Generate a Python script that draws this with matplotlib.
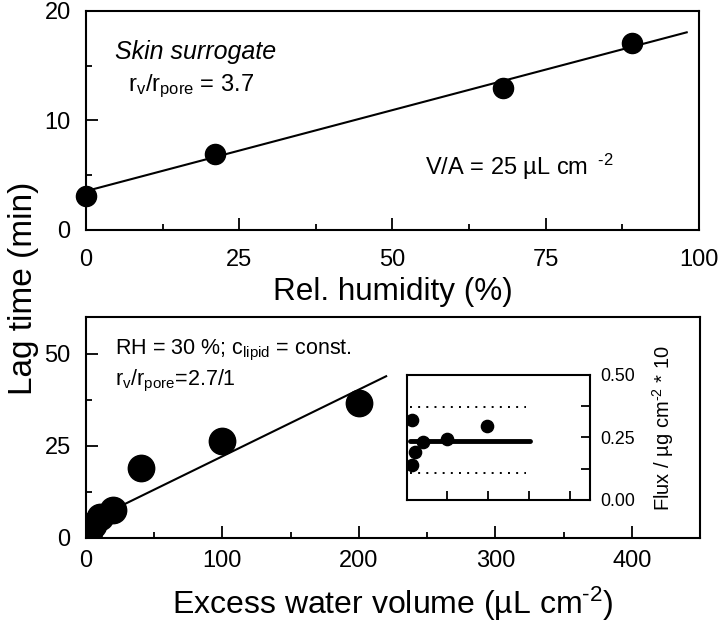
import matplotlib
matplotlib.use("Agg")
import matplotlib.pyplot as plt
from matplotlib.ticker import MultipleLocator, FormatStrFormatter

plt.rcParams['font.family'] = ['Liberation Sans', 'DejaVu Sans']
plt.rcParams['mathtext.fontset'] = 'custom'
plt.rcParams['mathtext.rm'] = 'Liberation Sans'
plt.rcParams['mathtext.it'] = 'Liberation Sans:italic'
plt.rcParams['mathtext.bf'] = 'Liberation Sans:bold'

HY = '\u2010'  # typographic hyphen for "-2" superscripts

# --- Top panel data: lag time vs relative humidity
rh = [0, 21, 68, 89]
lag_rh = [3.1, 6.9, 13.0, 17.1]
rh_fit_x = [0, 98]
rh_fit_y = [3.55, 18.05]

# --- Bottom panel data: lag time vs excess water volume
vol = [2.5, 5, 10, 20, 40, 100, 200]
lag_vol = [1.5, 3.5, 5.5, 7.5, 19.0, 26.4, 36.6]
vol_fit_x = [0, 220]
vol_fit_y = [4.0, 43.9]

# --- Inset data: flux vs excess water volume
flux_x = [12, 14, 20, 39, 99, 198]
flux_y = [0.14, 0.32, 0.19, 0.233, 0.244, 0.296]
flux_mean_x = [8, 302]
flux_mean_y = 0.237
flux_band_x = [8, 292]
flux_band = [0.109, 0.371]

fig = plt.figure(figsize=(7.2, 6.27), dpi=100)

tick_kw = dict(direction='in', width=1.3)

def style(ax, xpad):
    for s in ax.spines.values():
        s.set_linewidth(1.5)
    ax.tick_params(which='major', length=8.5, labelsize=17, **tick_kw)
    ax.tick_params(which='minor', length=4.3, **tick_kw)
    ax.tick_params(axis='x', top=False, pad=xpad)
    ax.tick_params(axis='y', right=False, pad=11)

# Top axes
ax1 = fig.add_axes([0.1194, 0.6332, 0.8514, 0.3493])
ax1.plot(rh_fit_x, rh_fit_y, color='black', lw=1.5)
ax1.plot(rh, lag_rh, 'o', color='black', ms=14.5, clip_on=False, zorder=3)
ax1.set_xlim(0, 100)
ax1.set_ylim(0, 20)
ax1.xaxis.set_major_locator(MultipleLocator(25))
ax1.xaxis.set_minor_locator(MultipleLocator(12.5))
ax1.yaxis.set_major_locator(MultipleLocator(10))
ax1.yaxis.set_minor_locator(MultipleLocator(5))
style(ax1, 13.6)
ax1.set_xlabel('Rel. humidity (%)', fontsize=22.7, labelpad=4.5)
ax1.text(0.047, 0.78, 'Skin surrogate', transform=ax1.transAxes, fontsize=18,
         style='italic')
ax1.text(0.068, 0.635, r'r$_\mathrm{v}$/r$_\mathrm{pore}$ = 3.7', transform=ax1.transAxes,
         fontsize=17)
ax1.text(0.553, 0.25, r'V/A = 25 µL cm $\,^{\mathrm{' + HY + r'2}}$',
         transform=ax1.transAxes, fontsize=17)

# Bottom axes
ax2 = fig.add_axes([0.1194, 0.1424, 0.8528, 0.352])
ax2.plot(vol_fit_x, vol_fit_y, color='black', lw=1.5)
ax2.plot(vol, lag_vol, 'o', color='black', ms=19, zorder=3)
ax2.set_xlim(0, 450)
ax2.set_ylim(0, 60)
ax2.xaxis.set_major_locator(MultipleLocator(100))
ax2.xaxis.set_minor_locator(MultipleLocator(50))
ax2.yaxis.set_major_locator(MultipleLocator(25))
ax2.yaxis.set_minor_locator(MultipleLocator(12.5))
style(ax2, 8.5)
ax2.set_xlabel(r'Excess water volume (µL cm$^{\mathrm{' + HY + r'2}}$)', fontsize=23,
               labelpad=9.4)
ax2.text(0.047, 0.83, r'RH = 30 %; c$_\mathrm{lipid}$ = const.', transform=ax2.transAxes,
         fontsize=15.5)
ax2.text(0.047, 0.69, r'r$_\mathrm{v}$/r$_\mathrm{pore}$=2.7/1', transform=ax2.transAxes,
         fontsize=15.5)

fig.text(0.033, 0.54, 'Lag time (min)', rotation=90, fontsize=24,
         ha='center', va='center')

# Inset
ax3 = fig.add_axes([0.5649, 0.2026, 0.2546, 0.1994])
ax3.plot(flux_mean_x, [flux_mean_y, flux_mean_y], color='black', lw=3.5,
         solid_capstyle='round')
for b in flux_band:
    ax3.plot(flux_band_x, [b, b], color='black', lw=1.4, linestyle=(0, (1, 3.2)))
ax3.plot(flux_x, flux_y, 'o', color='black', ms=8.8, zorder=3)
ax3.set_xlim(0, 450)
ax3.set_ylim(0, 0.5)
ax3.xaxis.set_major_locator(MultipleLocator(100))
ax3.yaxis.set_major_locator(MultipleLocator(0.25))
ax3.yaxis.set_minor_locator(MultipleLocator(0.125))
for s in ax3.spines.values():
    s.set_linewidth(1.5)
ax3.tick_params(axis='x', which='major', direction='in', length=6.5, width=1.3,
                labelbottom=False, top=False)
ax3.tick_params(axis='y', which='both', direction='in', length=6.5, width=1.3,
                left=False, right=True, labelleft=False, labelright=True,
                labelsize=12.8, pad=7.5)
ax3.yaxis.set_major_formatter(FormatStrFormatter('%.2f'))
ax3.yaxis.set_label_position('right')
ax3.set_ylabel(r'Flux / µg cm$^{\mathrm{' + HY + r'2}}$ * 10', fontsize=14.5)
ax3.yaxis.set_label_coords(1.325, 0.576)

fig.savefig('out.png', dpi=100)
